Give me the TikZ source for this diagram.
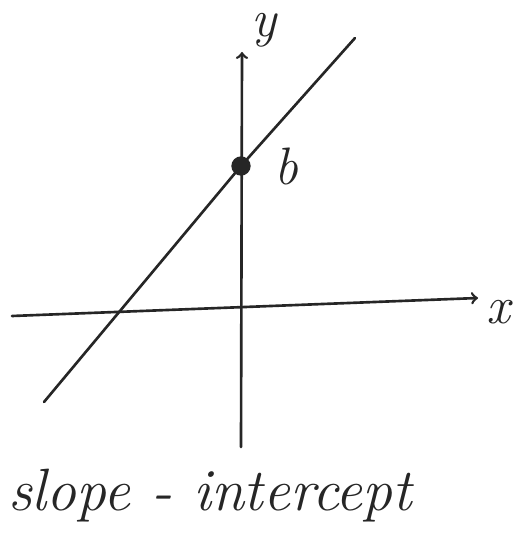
\documentclass[tikz,border=0pt]{standalone}
\usepackage{tikz}
\usetikzlibrary{arrows,positioning,calc}

\begin{document}
\begin{tikzpicture}[x=0.02cm, y=-0.02cm,
        pen/.style={draw=black!85, line width=1.5pt, line cap=round, line join=round},
        axis/.style={pen, ->, >=to},
        lbl/.style={font=\fontsize{30}{34}\selectfont\itshape, text=black!85, inner sep=0pt}]

        \useasboundingbox (0,0) rectangle (516,550);

        % axes
        \coordinate (ytop) at (242,52);
        \coordinate (ybot) at (241,447);
        \coordinate (xleft) at (12,316);
        \coordinate (xright) at (478,298);
        \draw[axis] (ybot) -- (ytop);
        \draw[axis] (xleft) -- (xright);
        \node[lbl] (ylab) at (264,30) {y};
        \node[lbl] (xlab) at (498,312) {x};

        % the line and its intercept
        \node[circle, fill=black!85, inner sep=0pt, minimum size=11pt] (b) at (241,166) {};
        \coordinate (lbot) at (44,402);
        \coordinate (ltop) at (355,38);
        \draw[pen] (lbot) -- (b.center) -- (ltop);
        \node[lbl, right=13pt of b] (blab) {b};

        \node[lbl, font=\fontsize{34}{38}\selectfont\itshape] (title) at (210,496) {slope - intercept};

    \end{tikzpicture}
\end{document}
